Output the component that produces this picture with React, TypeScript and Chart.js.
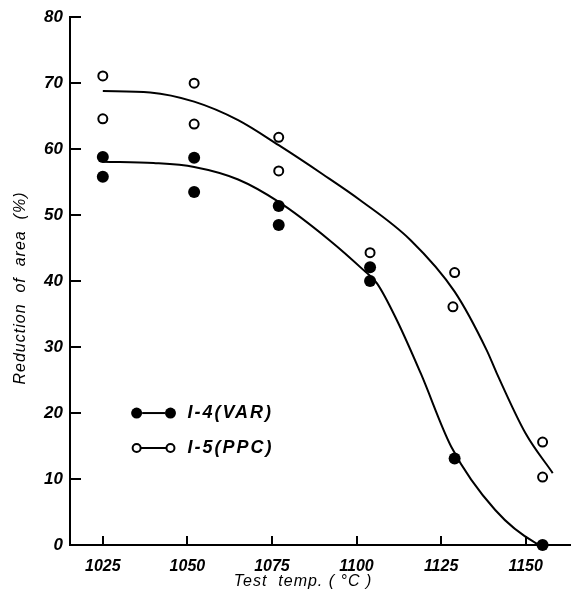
import React, { useEffect, useRef } from "react";
import { Chart, registerables } from "chart.js";

Chart.register(...registerables);

// I-4 (VAR) measured points
const varTemps = [1025, 1025, 1052, 1052, 1077, 1077, 1104, 1104, 1129, 1155];
const varValues = [58.8, 55.8, 58.7, 53.5, 51.4, 48.5, 42.1, 40.0, 13.1, 0];
// I-5 (PPC) measured points
const ppcTemps = [1025, 1025, 1052, 1052, 1077, 1077, 1104, 1129, 1128.5, 1155, 1155];
const ppcValues = [71.1, 64.6, 70.0, 63.8, 61.8, 56.7, 44.3, 41.3, 36.1, 15.6, 10.3];
// Fitted curves
const varCurveTemps = [1025, 1040, 1052, 1065, 1077, 1092, 1102, 1106, 1112, 1119, 1128, 1141, 1153, 1155];
const varCurveValues = [58.1, 57.9, 57.3, 55.4, 52.0, 46.2, 41.7, 39.7, 34.0, 26.0, 14.9, 5.3, 0.3, 0];
const ppcCurveTemps = [1025, 1039, 1052, 1065, 1077, 1090, 1101, 1116, 1129, 1138.5, 1141.4, 1150, 1158];
const ppcCurveValues = [68.8, 68.6, 67.2, 64.4, 60.6, 56.2, 52.3, 46.2, 38.4, 29.5, 26.1, 16.9, 10.9];

const xTickValues = [1025, 1050, 1075, 1100, 1125, 1150];
const xMin = 1015.3;
const xMax = 1163.4;
const yMin = 0;
const yMax = 80;
const xTitle = "Test  temp. ( °C )";
const yTitle = "Reduction  of  area  (%)";

const legendItems = [
  { label: "I-4(VAR)", filled: true, y: 20 },
  { label: "I-5(PPC)", filled: false, y: 14.7 },
];

const FONT = "'Liberation Sans', Arial, sans-serif";

const extrasPlugin = {
  id: "extras",
  afterDraw(chart: any) {
    const ctx = chart.ctx;
    const xs = chart.scales.x;
    const ys = chart.scales.y;
    const area = chart.chartArea;
    ctx.save();
    ctx.strokeStyle = "#000";
    ctx.lineWidth = 2;
    // inward ticks
    xTickValues.forEach((v) => {
      const px = Math.round(xs.getPixelForValue(v));
      ctx.beginPath();
      ctx.moveTo(px, area.bottom);
      ctx.lineTo(px, area.bottom - 9);
      ctx.stroke();
    });
    for (let v = 10; v <= 80; v += 10) {
      const py = Math.round(ys.getPixelForValue(v));
      ctx.beginPath();
      ctx.moveTo(area.left, py);
      ctx.lineTo(area.left + 11, py);
      ctx.stroke();
    }
    // legend
    legendItems.forEach((it) => {
      const x1 = xs.getPixelForValue(1035);
      const x2 = xs.getPixelForValue(1045);
      const py = ys.getPixelForValue(it.y);
      const r = it.filled ? 5.5 : 4;
      ctx.beginPath();
      ctx.moveTo(x1 + r, py);
      ctx.lineTo(x2 - r, py);
      ctx.stroke();
      [x1, x2].forEach((cx) => {
        ctx.beginPath();
        ctx.arc(cx, py, r, 0, Math.PI * 2);
        if (it.filled) {
          ctx.fillStyle = "#000";
          ctx.fill();
        } else {
          ctx.fillStyle = "#fff";
          ctx.fill();
          ctx.stroke();
        }
      });
      ctx.fillStyle = "#000";
      ctx.font = `italic bold 18px ${FONT}`;
      (ctx as any).letterSpacing = "2px";
      ctx.textBaseline = "middle";
      ctx.textAlign = "left";
      ctx.fillText(it.label, xs.getPixelForValue(1050), py);
    });
    // axis titles
    (ctx as any).letterSpacing = "1px";
    ctx.fillStyle = "#000";
    ctx.font = `italic 16px ${FONT}`;
    ctx.textAlign = "center";
    ctx.textBaseline = "middle";
    ctx.fillText(xTitle, 303, 582);
    ctx.translate(21, 288);
    ctx.rotate(-Math.PI / 2);
    ctx.fillText(yTitle, 0, 0);
    ctx.restore();
  },
};

export default function App() {
  const ref = useRef<HTMLCanvasElement | null>(null);
  useEffect(() => {
    if (!ref.current) return;
    const toPts = (xs: number[], ys: number[]) => xs.map((x, i) => ({ x, y: ys[i] }));
    const chart = new Chart(ref.current, {
      type: "scatter",
      data: {
        datasets: [
          {
            label: "I-4 curve",
            data: toPts(varCurveTemps, varCurveValues),
            showLine: true,
            borderColor: "#000",
            borderWidth: 2,
            pointRadius: 0,
            cubicInterpolationMode: "monotone",
          } as any,
          {
            label: "I-5 curve",
            data: toPts(ppcCurveTemps, ppcCurveValues),
            showLine: true,
            borderColor: "#000",
            borderWidth: 2,
            pointRadius: 0,
            cubicInterpolationMode: "monotone",
          } as any,
          {
            label: "I-4(VAR)",
            data: toPts(varTemps, varValues),
            backgroundColor: "#000",
            borderColor: "#000",
            pointRadius: 6,
            borderWidth: 0,
            clip: false,
          } as any,
          {
            label: "I-5(PPC)",
            data: toPts(ppcTemps, ppcValues),
            backgroundColor: "#fff",
            borderColor: "#000",
            pointRadius: 4.5,
            borderWidth: 2,
          },
        ],
      },
      options: {
        responsive: false,
        animation: false,
        layout: { autoPadding: false, padding: { top: 17, right: 0, left: 0, bottom: 0 } } as any,
        plugins: { legend: { display: false }, tooltip: { enabled: false } },
        scales: {
          x: {
            type: "linear",
            min: xMin,
            max: xMax,
            afterFit: (s: any) => {
              s.height = 55;
              s.paddingRight = 0;
              s.paddingLeft = 0;
            },
            afterBuildTicks: (s: any) => {
              s.ticks = xTickValues.map((v) => ({ value: v }));
            },
            grid: { display: false, drawTicks: false },
            border: { display: true, color: "#000", width: 2 },
            ticks: {
              color: "#000",
              padding: 12,
              maxRotation: 0,
              callback: (v: any) => String(v),
              font: { family: FONT, size: 16, style: "italic", weight: "bold" },
            },
          },
          y: {
            type: "linear",
            min: yMin,
            max: yMax,
            afterFit: (s: any) => {
              s.width = 70;
            },
            grid: { display: false, drawTicks: false },
            border: { display: true, color: "#000", width: 2 },
            ticks: {
              stepSize: 10,
              color: "#000",
              padding: 7,
              callback: (v: any) => String(v),
              font: { family: FONT, size: 17, style: "italic", weight: "bold" },
            },
          },
        },
      },
      plugins: [extrasPlugin],
    });
    return () => chart.destroy();
  }, []);
  return (
    <div style={{ position: "absolute", left: 0, top: 0, width: 571, height: 600, background: "#fff" }}>
      <canvas ref={ref} width={571} height={600} />
    </div>
  );
}
